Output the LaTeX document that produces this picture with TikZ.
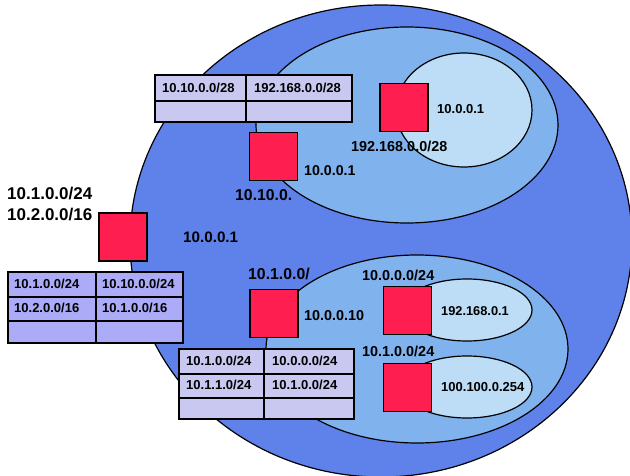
\documentclass[tikz,border=0pt]{standalone}
\usepackage{fontspec}
\setmainfont{Liberation Sans}
\definecolor{bigblue}{HTML}{5F82EA}
\definecolor{midblue}{HTML}{80B2EE}
\definecolor{paleblue}{HTML}{BCDDF5}
\definecolor{routerred}{HTML}{FF1E50}
\definecolor{tabA}{HTML}{ABABF7}
\definecolor{tabB}{HTML}{C8C8F0}
\tikzset{
  net/.style={draw=black, line width=1.2pt},
  router/.style={draw=black, line width=1.2pt, fill=routerred, minimum size=48pt, inner sep=0pt, outer sep=0pt},
  cellA/.style={draw=black, line width=1.2pt, fill=tabA, inner sep=0pt, outer sep=0pt},
  cellB/.style={draw=black, line width=1.2pt, fill=tabB, inner sep=0pt, outer sep=0pt},
  lbl/.style={anchor=base west, inner sep=0pt, font=\bfseries\fontsize{#1}{#1}\selectfont},
}
\begin{document}
\begin{tikzpicture}[x=1pt, y=-1pt]
\useasboundingbox (0,0) rectangle (630,476);
% networks
\draw[net, fill=bigblue] (381,241) ellipse [x radius=251pt, y radius=236pt];
\draw[net, fill=midblue] (407,125) ellipse [x radius=151pt, y radius=98pt];
\draw[net, fill=midblue] (417,349) ellipse [x radius=151pt, y radius=94pt];
\draw[net, fill=paleblue] (464,110) ellipse [x radius=68pt, y radius=57pt];
\draw[net, fill=paleblue] (467,310) ellipse [x radius=65pt, y radius=31pt];
\draw[net, fill=paleblue] (467,387) ellipse [x radius=65pt, y radius=31pt];
% routers
\node[router] (r0) at (123,237) {};
\node[router] (r1) at (273.5,156.5) {};
\node[router] (r2) at (404,107.5) {};
\node[router] (r3) at (274,313.5) {};
\node[router] (r4) at (407.5,310.5) {};
\node[router] (r5) at (407.5,387.5) {};
% left table
\node[cellA, minimum width=88pt, minimum height=25pt] (lt11) at (52,284.5) {};
\node[cellA, minimum width=87pt, minimum height=25pt] (lt12) at (139.5,284.5) {};
\node[cellA, minimum width=88pt, minimum height=24pt] (lt21) at (52,309) {};
\node[cellA, minimum width=87pt, minimum height=24pt] (lt22) at (139.5,309) {};
\node[cellA, minimum width=88pt, minimum height=22pt] (lt31) at (52,332) {};
\node[cellA, minimum width=87pt, minimum height=22pt] (lt32) at (139.5,332) {};
% upper table
\node[cellB, minimum width=91pt, minimum height=26pt] (ut11) at (200.5,88) {};
\node[cellB, minimum width=106pt, minimum height=26pt] (ut12) at (299,88) {};
\node[cellB, minimum width=91pt, minimum height=21pt] (ut21) at (200.5,111.5) {};
\node[cellB, minimum width=106pt, minimum height=21pt] (ut22) at (299,111.5) {};
% lower table
\node[cellB, minimum width=85pt, minimum height=25pt] (bt11) at (221.5,361.5) {};
\node[cellB, minimum width=90pt, minimum height=25pt] (bt12) at (309,361.5) {};
\node[cellB, minimum width=85pt, minimum height=24pt] (bt21) at (221.5,386) {};
\node[cellB, minimum width=90pt, minimum height=24pt] (bt22) at (309,386) {};
\node[cellB, minimum width=85pt, minimum height=21pt] (bt31) at (221.5,408.5) {};
\node[cellB, minimum width=90pt, minimum height=21pt] (bt32) at (309,408.5) {};
% table texts
\node[lbl=13] (tl1) at (14,288.7) {10.1.0.0/24};
\node[lbl=13] (tl2) at (102,288.7) {10.10.0.0/24};
\node[lbl=13] (tl3) at (14,312.7) {10.2.0.0/16};
\node[lbl=13] (tl4) at (102,312.7) {10.1.0.0/16};
\node[lbl=13] (tu1) at (162,92.7) {10.10.0.0/28};
\node[lbl=13] (tu2) at (254,92.7) {192.168.0.0/28};
\node[lbl=13] (tb1) at (186,365.7) {10.1.0.0/24};
\node[lbl=13] (tb2) at (272,365.7) {10.0.0.0/24};
\node[lbl=13] (tb3) at (186,389.7) {10.1.1.0/24};
\node[lbl=13] (tb4) at (272,389.7) {10.1.0.0/24};
% labels
\node[lbl=17] (a1) at (7,200) {10.1.0.0/24};
\node[lbl=17] (a2) at (7,221) {10.2.0.0/16};
\node[lbl=15.2] (b1) at (183,242.5) {10.0.0.1};
\node[lbl=15.8] (b2) at (235,200.5) {10.10.0.};
\node[lbl=15.8] (b3) at (248,279.5) {10.1.0.0/};
\node[lbl=14.2] (c1) at (304,176) {10.0.0.1};
\node[lbl=14.4] (c2) at (351,152) {192.168.0.0/28};
\node[lbl=14.4] (c3) at (304,320) {10.0.0.10};
\node[lbl=14.4] (c4) at (362,280) {10.0.0.0/24};
\node[lbl=14.4] (c5) at (362,356) {10.1.0.0/24};
\node[lbl=13] (d1) at (437,113.7) {10.0.0.1};
\node[lbl=12.8] (d2) at (441,315.6) {192.168.0.1};
\node[lbl=13] (d3) at (441,391.6) {100.100.0.254};
\end{tikzpicture}
\end{document}
